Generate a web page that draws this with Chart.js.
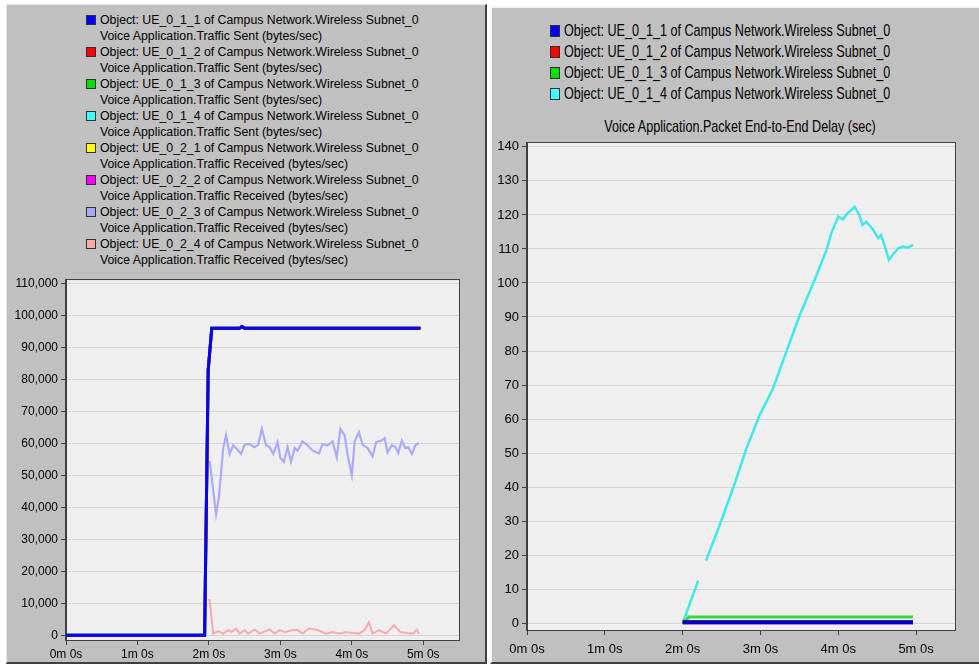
<!DOCTYPE html>
<html>
<head>
<meta charset="utf-8">
<script src="https://cdn.jsdelivr.net/npm/chart.js@4.4.1/dist/chart.umd.min.js"></script>
<style>
  body { margin: 0; width: 979px; height: 666px; overflow: hidden; position: relative; background: #fff; }
  .panel { position: absolute; background: #c0c0c0; box-sizing: border-box; border-style: solid; }
  #leftPanel { left: 6px; top: 4px; width: 481px; height: 660px; border-width: 1px 2px 2px 1px; border-color: #e6e6e6 #404040 #404040 #e6e6e6; }
  #rightPanel { left: 490px; top: 6px; width: 489px; height: 658px; border-width: 2px 0 2px 2px; border-color: #f4f4f4 #404040 #404040 #f4f4f4; }
  .leg { position: absolute; white-space: nowrap; color: #000; }
  .legL { font: 12.3px "Liberation Sans", Arial, sans-serif; line-height: 16px; }
  .legR { font: 12.6px "Liberation Sans", Arial, sans-serif; line-height: 20px; transform: scaleY(1.25); transform-origin: 0 50%; }
  .sw { position: absolute; box-sizing: border-box; border: 1px solid #303030; }
  canvas { position: absolute; }
</style>
</head>
<body>
<div id="leftPanel" class="panel"></div>
<div id="rightPanel" class="panel"></div>
<div id="legends"></div>
<canvas id="trafficChart" style="left:6px;top:270px;width:478px;height:390px" width="478" height="390"></canvas>
<canvas id="delayChart" style="left:490px;top:132px;width:489px;height:528px" width="489" height="528"></canvas>
<script>
// ---- data (time in minutes) ----
const minuteTicks = [0, 1, 2, 3, 4, 5];
const xTickLabels = ['0m 0s', '1m 0s', '2m 0s', '3m 0s', '4m 0s', '5m 0s'];
const trafficYTicks = [0, 10000, 20000, 30000, 40000, 50000, 60000, 70000, 80000, 90000, 100000, 110000];
const delayYTicks = [0, 10, 20, 30, 40, 50, 60, 70, 80, 90, 100, 110, 120, 130, 140];

const objectNames = [
  'Object: UE_0_1_1 of Campus Network.Wireless Subnet_0',
  'Object: UE_0_1_2 of Campus Network.Wireless Subnet_0',
  'Object: UE_0_1_3 of Campus Network.Wireless Subnet_0',
  'Object: UE_0_1_4 of Campus Network.Wireless Subnet_0',
  'Object: UE_0_2_1 of Campus Network.Wireless Subnet_0',
  'Object: UE_0_2_2 of Campus Network.Wireless Subnet_0',
  'Object: UE_0_2_3 of Campus Network.Wireless Subnet_0',
  'Object: UE_0_2_4 of Campus Network.Wireless Subnet_0'
];
const statNames = [
  'Voice Application.Traffic Sent (bytes/sec)',
  'Voice Application.Traffic Sent (bytes/sec)',
  'Voice Application.Traffic Sent (bytes/sec)',
  'Voice Application.Traffic Sent (bytes/sec)',
  'Voice Application.Traffic Received (bytes/sec)',
  'Voice Application.Traffic Received (bytes/sec)',
  'Voice Application.Traffic Received (bytes/sec)',
  'Voice Application.Traffic Received (bytes/sec)'
];
const delayTitle = 'Voice Application.Packet End-to-End Delay (sec)';

const swatchColors = ['#0000ff', '#ff0000', '#00e000', '#40ffff', '#ffff00', '#ff00ff', '#aaaaff', '#ffaaaa'];
const trafficLineColors = ['#0000ff', '#ff0000', '#00e000', '#00e0e0', '#ffff00', '#ff00ff', '#aaaaff', '#ffaaaa'];

// traffic sent (same for every sender, only UE_0_1_1 shows on top)
const sentTime  = [0, 1.94, 1.99, 2.04, 2.43, 2.46, 2.50, 4.96];
const sentBytes = [0, 0, 83000, 96000, 96000, 96500, 96000, 96000];

// UE_0_2_3 received
const rcv3Time  = [2.01, 2.10, 2.14, 2.20, 2.24, 2.29, 2.34, 2.38, 2.45, 2.50, 2.57, 2.64, 2.69, 2.74, 2.80,
                   2.85, 2.90, 2.96, 3.00, 3.05, 3.10, 3.15, 3.20, 3.24, 3.31, 3.37, 3.45, 3.54, 3.59, 3.66,
                   3.73, 3.79, 3.84, 3.90, 3.94, 4.00, 4.04, 4.10, 4.15, 4.22, 4.29, 4.34, 4.41, 4.46, 4.50,
                   4.56, 4.61, 4.65, 4.70, 4.75, 4.79, 4.84, 4.89, 4.94];
const rcv3Bytes = [54600, 37800, 43000, 58500, 62500, 56700, 59400, 58500, 56700, 59600, 59800, 58800, 59600, 64500, 59400,
                   58800, 56700, 60400, 55400, 54200, 58800, 54200, 58500, 57700, 60600, 59600, 57800, 56800, 59800, 59300,
                   60600, 55600, 64500, 62500, 56500, 50000, 60600, 63500, 59600, 58500, 55900, 60400, 60800, 61600, 57200,
                   59400, 58800, 57000, 60800, 58500, 58800, 56700, 59400, 60100];

// UE_0_2_4 received
const rcv4Time  = [1.99, 2.01, 2.06, 2.13, 2.20, 2.27, 2.32, 2.38, 2.43, 2.50, 2.55, 2.64, 2.71, 2.85, 2.92,
                   2.99, 3.06, 3.18, 3.24, 3.31, 3.40, 3.52, 3.64, 3.73, 3.82, 3.92, 4.01, 4.10, 4.18, 4.24,
                   4.29, 4.38, 4.48, 4.59, 4.68, 4.77, 4.86, 4.91, 4.94];
const rcv4Bytes = [11100, 11000, 500, 1300, 500, 1600, 1000, 2100, 500, 1600, 500, 1800, 500, 1800, 500,
                   1600, 1000, 1600, 1600, 500, 2100, 1600, 500, 1000, 500, 1000, 700, 500, 1600, 4100,
                   500, 1600, 500, 3100, 1000, 700, 500, 1800, 500];

// end-to-end delay (sec)
const delayColors = ['#0000c8', '#ff0000', '#30e030', '#40e8e8'];
const delay1Time = [2.0, 4.96];
const delay1Sec  = [0.3, 0.3];
const delay3Time = [2.0, 2.08, 4.96];
const delay3Sec  = [0, 1.8, 1.8];
const delay4Time = [2.00, 2.20, 2.25, 2.30, 2.48, 2.65, 2.82, 2.99, 3.16, 3.33, 3.50, 3.68, 3.85, 3.91, 4.00,
                    4.06, 4.12, 4.21, 4.27, 4.31, 4.36, 4.45, 4.51, 4.55, 4.60, 4.65, 4.70, 4.77, 4.83, 4.89, 4.96];
const delay4Sec  = [0, 12.5, null, 18.4, 29.1, 39.8, 51.4, 61.2, 68.9, 79.6, 90.3, 100, 109.8, 114.6, 119.5,
                    118.7, 120.5, 122.4, 120, 117, 118, 115.6, 113.2, 114.1, 110.7, 106.8, 108.3, 110.2, 110.7, 110.4, 111.2];

const toPoints = (ts, vs) => ts.map((t, i) => ({ x: t, y: vs[i] }));

// ---- legends (plain html text) ----
const legendBox = document.getElementById('legends');
function addLine(cls, text, left, top) {
  const d = document.createElement('div');
  d.className = 'leg ' + cls;
  d.style.left = left + 'px';
  d.style.top = top + 'px';
  d.textContent = text;
  legendBox.appendChild(d);
}
function addSwatch(color, left, top, w, h) {
  const s = document.createElement('div');
  s.className = 'sw';
  s.style.cssText = `left:${left}px;top:${top}px;width:${w}px;height:${h}px;background:${color}`;
  legendBox.appendChild(s);
}
objectNames.forEach((name, i) => {
  const y = 12 + i * 32;
  addSwatch(swatchColors[i], 86, y + 3, 10, 10);
  addLine('legL', name, 100, y);
  addLine('legL', statNames[i], 100, y + 16);
});
objectNames.slice(0, 4).forEach((name, i) => {
  const y = 20.5 + i * 21.3;
  addSwatch(swatchColors[i], 550, y + 4, 10, 12);
  addLine('legR', name, 564, y);
});
const t = document.createElement('div');
t.className = 'leg legR';
t.style.cssText = 'left:540px;width:400px;top:117px;text-align:center';
t.textContent = delayTitle;
legendBox.appendChild(t);

// ---- plot frame + background ----
const framePlugin = {
  id: 'frame',
  beforeDraw(chart) {
    const a = chart.chartArea, c = chart.ctx;
    c.save();
    c.fillStyle = '#efefef';
    c.fillRect(a.left, a.top, a.right - a.left, a.bottom - a.top);
    c.restore();
  },
  afterDraw(chart) {
    const a = chart.chartArea, c = chart.ctx;
    c.save();
    c.strokeStyle = '#404040';
    c.lineWidth = 1;
    c.strokeRect(Math.round(a.left) - 0.5, Math.round(a.top) - 0.5, Math.round(a.right - a.left) + 1, Math.round(a.bottom - a.top) + 1);
    c.restore();
  }
};

function buildOptions(o) {
  return {
    responsive: false,
    animation: false,
    events: [],
    layout: { padding: { top: o.padTop, right: o.padRight, left: 0, bottom: 0 } },
    plugins: { legend: { display: false }, tooltip: { enabled: false }, title: { display: false } },
    elements: { point: { radius: 0 }, line: { tension: 0 } },
    scales: {
      x: {
        type: 'linear', min: 0, max: 5.5,
        afterFit: s => { s.height = o.xHeight; },
        afterBuildTicks: s => { s.ticks = minuteTicks.map(v => ({ value: v })); },
        grid: { drawOnChartArea: false, tickLength: 5, tickColor: '#404040' },
        border: { color: '#404040' },
        ticks: { padding: o.xPad, color: '#000', font: o.font, maxRotation: 0, autoSkip: false,
                 callback: (v, i) => xTickLabels[i] }
      },
      y: {
        min: o.yMin, max: o.yMax,
        afterFit: s => { s.width = o.yWidth; },
        afterBuildTicks: s => { s.ticks = o.yTicks.map(v => ({ value: v })); },
        grid: { color: '#d6d6d6', tickLength: 5, tickColor: '#404040' },
        border: { color: '#404040' },
        ticks: { padding: 3, color: '#000', font: o.font, autoSkip: false,
                 callback: v => v.toLocaleString('en-US') }
      }
    }
  };
}

const trafficSeries = [
  [sentTime, sentBytes, 3], [sentTime, sentBytes, 3], [sentTime, sentBytes, 3], [sentTime, sentBytes, 3],
  [sentTime, sentBytes, 2], [sentTime, sentBytes, 2], [rcv3Time, rcv3Bytes, 2.2], [rcv4Time, rcv4Bytes, 2]
];
new Chart(document.getElementById('trafficChart'), {
  type: 'line',
  data: {
    datasets: trafficSeries.map((s, i) => ({
      label: objectNames[i],
      data: toPoints(s[0], s[1]),
      borderColor: trafficLineColors[i],
      borderWidth: s[2]
    }))
  },
  options: buildOptions({ padTop: 6, padRight: 25, xHeight: 20, xPad: 2, yWidth: 60, yMin: -1500, yMax: 111000,
                          yTicks: trafficYTicks, font: { family: '"Liberation Sans", Arial, sans-serif', size: 12 } }),
  plugins: [framePlugin]
});

const delaySeries = [[delay1Time, delay1Sec, 4], [delay1Time, delay1Sec, 4], [delay3Time, delay3Sec, 3], [delay4Time, delay4Sec, 2.5]];
new Chart(document.getElementById('delayChart'), {
  type: 'line',
  data: {
    datasets: delaySeries.map((s, i) => ({
      label: objectNames[i],
      data: toPoints(s[0], s[1]),
      borderColor: delayColors[i],
      borderWidth: s[2],
      spanGaps: false
    }))
  },
  options: buildOptions({ padTop: 4, padRight: 24, xHeight: 30, xPad: 7, yWidth: 37, yMin: -2, yMax: 141.2,
                          yTicks: delayYTicks, font: { family: '"Liberation Sans", Arial, sans-serif', size: 13 } }),
  plugins: [framePlugin]
});
</script>
</body>
</html>
